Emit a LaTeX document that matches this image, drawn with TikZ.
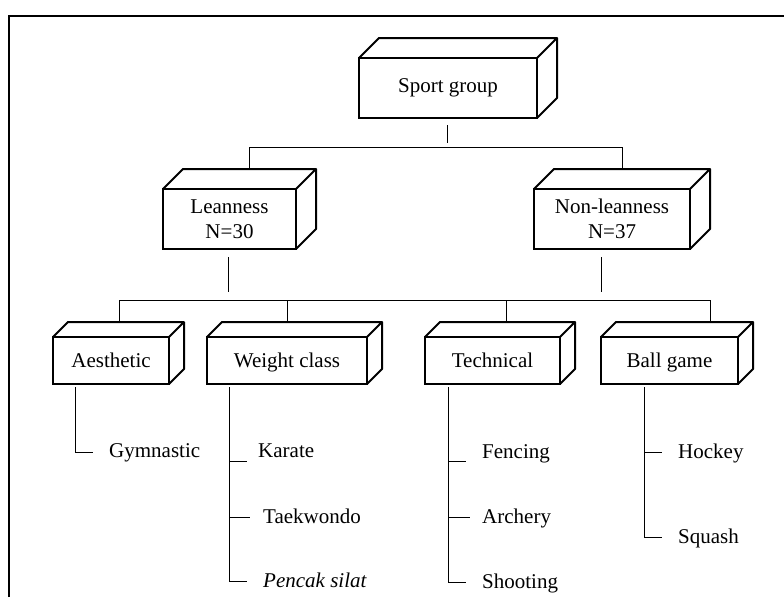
\documentclass[tikz,border=0pt]{standalone}
\usepackage{fontspec}
\setmainfont{Liberation Serif}
\tikzset{
  cube/.style={draw, line width=2pt, outer sep=0pt, inner sep=0pt, align=center},
  smallcube/.style={cube, minimum height=47, text height=14, text depth=1},
  face/.style={line width=2pt, line join=round},
  conn/.style={line width=1pt},
  leaf/.style={anchor=base west, inner sep=0pt}
}
\begin{document}
\begin{tikzpicture}[x=1pt,y=-1pt,font=\fontsize{21}{25}\selectfont]
\useasboundingbox (0,0) rectangle (784,597);
\draw[line width=2pt](9,597)|-(784,16);
\node[cube,minimum width=178,minimum height=60](sport) at (448,88){Sport group};
\node[cube,minimum width=133,minimum height=60](lean) at (229.5,219){Leanness\\N=30};
\node[cube,minimum width=156,minimum height=60](nonlean) at (612,219){Non-leanness\\N=37};
\node[smallcube,minimum width=116](aest) at (111,360.5){Aesthetic};
\node[smallcube,minimum width=160](weight) at (287,360.5){Weight class};
\node[smallcube,minimum width=135](tech) at (492.5,360.5){Technical};
\node[smallcube,minimum width=137](ball) at (669.5,360.5){Ball game};
\foreach \n/\d in {sport/20,lean/20,nonlean/20,aest/15,weight/15,tech/15,ball/15}
  \draw[face](\n.north west)--([shift={(\d,-\d)}]\n.north west)--([shift={(\d,-\d)}]\n.north east)--([shift={(\d,-\d)}]\n.south east)--(\n.south east)
  (\n.north east)--([shift={(\d,-\d)}]\n.north east);
\node[leaf](gym) at (109,457){Gymnastic};
\node[leaf](karate) at (258,457){Karate};
\node[leaf](taek) at (263,523){Taekwondo};
\node[leaf](silat) at (263,587){\textit{Pencak silat}};
\node[leaf](fenc) at (482,458){Fencing};
\node[leaf](arch) at (482,523){Archery};
\node[leaf](shoot) at (482,588){Shooting};
\node[leaf](hock) at (678,458){Hockey};
\node[leaf](squash) at (678,543){Squash};
\draw[conn]([shift={(-1,7)}]sport.south)--++(0,18);
\draw[conn]([shift={(20,-20)}]lean.north)|-([shift={(10,-42)}]nonlean.north)--([shift={(10,-20)}]nonlean.north);
\draw[conn]([shift={(-1.5,8)}]lean.south)--++(0,35);
\draw[conn]([shift={(-11,8)}]nonlean.south)--++(0,35);
\draw[conn]([shift={(8,-15)}]aest.north)|-([shift={(40.5,-37)}]ball.north)--([shift={(40.5,-15)}]ball.north);
\foreach \n/\s in {weight/0,tech/13.5}
  \draw[conn]([shift={(\s,-15)}]\n.north)--++(0,-22);
\draw[conn]([shift={(-36,3)}]aest.south)|-([shift={(-16,0)}]gym.west);
\foreach \leaf/\g/\dy in {karate/11/11,taek/13/2,silat/16/2}
  \draw[conn]([shift={(-58,3)}]weight.south)|-([shift={(-\g,\dy)}]\leaf.west);
\foreach \leaf/\g/\dy in {fenc/16/8,arch/12/0,shoot/16/0}
  \draw[conn]([shift={(-44.5,3)}]tech.south)|-([shift={(-\g,\dy)}]\leaf.west);
\foreach \leaf/\g/\dy in {hock/16/0,squash/16/0}
  \draw[conn]([shift={(-25.5,3)}]ball.south)|-([shift={(-\g,\dy)}]\leaf.west);
\end{tikzpicture}
\end{document}
